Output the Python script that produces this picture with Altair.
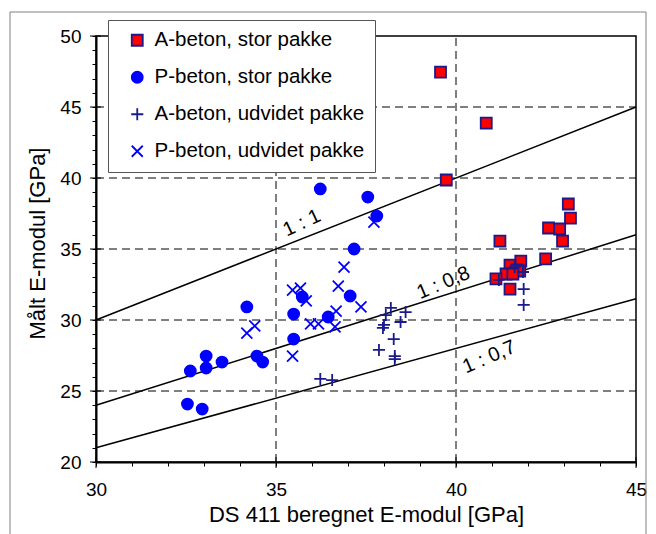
import altair as alt
import pandas as pd

FONT = "Liberation Sans"

series_names = ["A-beton, stor pakke", "P-beton, stor pakke",
                "A-beton, udvidet pakke", "P-beton, udvidet pakke"]
series_shapes = ["square", "circle", "M-1.1,0L1.1,0M0,-1.1L0,1.1", "M-1,-1L1,1M-1,1L1,-1"]
series_fills = ["#ff0000", "#0000ff", "transparent", "transparent"]
series_strokes = ["#1a1a8c", "#0000ff", "#1a1a8c", "#0000ff"]

a_stor_x = [39.57, 40.84, 39.73, 43.12, 43.18, 42.57, 42.88, 42.96, 41.22, 42.49,
            41.80, 41.50, 41.69, 41.77, 41.39, 41.58, 41.11, 41.50]
a_stor_y = [47.46, 43.87, 39.86, 38.17, 37.18, 36.48, 36.41, 35.56, 35.56, 34.30,
            34.15, 33.87, 33.52, 33.45, 33.24, 33.24, 32.89, 32.18]

p_stor_x = [34.19, 33.06, 33.50, 32.62, 33.06, 34.47, 34.63, 32.54, 32.95, 35.49,
            35.49, 36.23, 37.55, 37.80, 37.17, 35.73, 37.06, 36.45]
p_stor_y = [30.92, 27.46, 27.04, 26.41, 26.62, 27.46, 27.04, 24.08, 23.73, 30.42,
            28.66, 39.23, 38.66, 37.32, 35.00, 31.62, 31.69, 30.21]

a_udv_x = [38.19, 38.60, 38.05, 38.46, 38.00, 37.97, 38.27, 37.86, 38.30, 38.30,
           36.23, 36.56, 41.63, 41.86, 41.88, 41.88, 41.19]
a_udv_y = [30.85, 30.56, 30.35, 29.86, 29.65, 29.44, 28.66, 27.89, 27.46, 27.25,
           25.85, 25.77, 33.73, 33.38, 32.18, 31.06, 32.82]

p_udv_x = [34.19, 34.41, 35.46, 35.46, 35.68, 35.84, 35.96, 36.18, 36.64, 36.67,
           36.73, 36.89, 37.36, 37.72]
p_udv_y = [29.08, 29.58, 27.46, 32.11, 32.25, 31.34, 29.72, 29.72, 29.51, 30.63,
           32.39, 33.73, 30.92, 36.90]

ratios = [1.0, 0.8, 0.7]
line_x_ends = [30, 45]

label_text = ["1 : 1", "1 : 0,8", "1 : 0,7"]
label_x = [35.72, 39.65, 40.92]
label_y = [36.83, 32.61, 27.39]
label_angle = [335, 337, 337]

grid_x = [35, 40]
grid_y = [25, 30, 35, 40, 45]
x_ticks = list(range(30, 46))
y_ticks = list(range(20, 51))
x_major = [30, 35, 40, 45]
y_major = [20, 25, 30, 35, 40, 45, 50]

W, H = 540, 426
XMIN, XMAX, YMIN, YMAX = 30, 45, 20, 50
px_x = W / (XMAX - XMIN)
px_y = H / (YMAX - YMIN)

# ---- data frames
rows = []
for name, xs, ys in zip(series_names, [a_stor_x, p_stor_x, a_udv_x, p_udv_x],
                        [a_stor_y, p_stor_y, a_udv_y, p_udv_y]):
    for x, y in zip(xs, ys):
        rows.append({"x": x, "y": y, "serie": name})
pts = pd.DataFrame(rows)

lines = pd.DataFrame([{"x": x, "y": r * x, "r": str(r)} for r in ratios for x in line_x_ends])
labels = pd.DataFrame({"x": label_x, "y": label_y, "t": label_text, "a": label_angle})

xs = alt.Scale(domain=[XMIN, XMAX], nice=False, zero=False)
ys = alt.Scale(domain=[YMIN, YMAX], nice=False, zero=False)

x_axis = alt.Axis(values=x_ticks, tickCount=len(x_ticks),
                  labelExpr="datum.value % 5 === 0 ? datum.label : ''",
                  grid=False, tickSize=4, tickColor="black", tickWidth=1,
                  domainColor="black", domainWidth=2, labelFont=FONT, labelFontSize=19,
                  labelColor="black", labelPadding=14, labelFlush=False, labelOverlap=False,
                  title="DS 411 beregnet E-modul [GPa]", titleFont=FONT, titleFontSize=22,
                  titleFontWeight="normal", titleColor="black", titleY=59,
                  titleBaseline="alphabetic")
y_axis = alt.Axis(values=y_ticks, tickCount=len(y_ticks),
                  labelExpr="datum.value % 5 === 0 ? datum.label : ''",
                  grid=False, tickSize=4, tickColor="black", tickWidth=1,
                  domainColor="black", domainWidth=2, labelFont=FONT, labelFontSize=19,
                  labelColor="black", labelPadding=11, labelFlush=False, labelOverlap=False,
                  title="Målt E-modul [GPa]", titleFont=FONT, titleFontSize=22,
                  titleFontWeight="normal", titleColor="black", titleX=-52, titleY=207,
                  titleBaseline="alphabetic", titleAngle=270)

base_x = alt.X("x:Q", scale=xs, axis=x_axis)
base_y = alt.Y("y:Q", scale=ys, axis=y_axis)

frame = alt.Chart(pd.DataFrame({"d": [0]})).mark_rect(
    filled=False, stroke="#808080", strokeWidth=1
).encode(x=alt.value(-86), x2=alt.value(550), y=alt.value(-24), y2=alt.value(510))

gx = alt.Chart(pd.DataFrame({"x": grid_x})).mark_rule(
    color="black", strokeWidth=1, strokeDash=[8, 5]
).encode(x=base_x, y=alt.datum(YMIN, type="quantitative"), y2=alt.datum(YMAX))

gy = alt.Chart(pd.DataFrame({"y": grid_y})).mark_rule(
    color="black", strokeWidth=1, strokeDash=[8, 5]
).encode(y=base_y, x=alt.datum(XMIN, type="quantitative"), x2=alt.datum(XMAX))

tx = alt.Chart(pd.DataFrame({"x": x_major})).mark_rule(color="black", strokeWidth=1).encode(
    x=base_x, y=alt.datum(YMIN - 6 / px_y, type="quantitative"), y2=alt.datum(YMIN + 5 / px_y))
ty = alt.Chart(pd.DataFrame({"y": y_major})).mark_rule(color="black", strokeWidth=1).encode(
    y=base_y, x=alt.datum(XMIN - 6 / px_x, type="quantitative"), x2=alt.datum(XMIN + 5 / px_x))

ref = alt.Chart(lines).mark_line(color="black", strokeWidth=1.5).encode(
    x=base_x, y=base_y, detail="r:N")

txt = alt.Chart(labels).mark_text(font=FONT, fontSize=20, color="black").encode(
    x=base_x, y=base_y, text="t:N", angle=alt.Angle("a:Q", scale=None))

points = alt.Chart(pts).mark_point(opacity=1, strokeWidth=1.8, size=121).encode(
    x=base_x, y=base_y,
    shape=alt.Shape("serie:N", scale=alt.Scale(domain=series_names, range=series_shapes), title=None),
    fill=alt.Fill("serie:N", scale=alt.Scale(domain=series_names, range=series_fills), title=None),
    stroke=alt.Stroke("serie:N", scale=alt.Scale(domain=series_names, range=series_strokes), title=None),
)

chart = alt.layer(frame, gx, gy, tx, ty, ref, txt, points).properties(
    width=W, height=H,
    autosize=alt.AutoSizeParams(type="none"),
    padding={"left": 88, "top": 28, "right": 12, "bottom": 72},
).configure_view(stroke="black", strokeWidth=1.5).configure_legend(
    orient="none", legendX=12, legendY=-16, labelFont=FONT, labelFontSize=20.5,
    labelColor="black", symbolSize=121, symbolStrokeWidth=1.8, padding=10,
    rowPadding=16, symbolOffset=9, labelOffset=7, strokeColor="#555555",
    fillColor="white", labelLimit=400,
)

chart.save("out.html", embed_options={"renderer": "svg", "actions": False})
